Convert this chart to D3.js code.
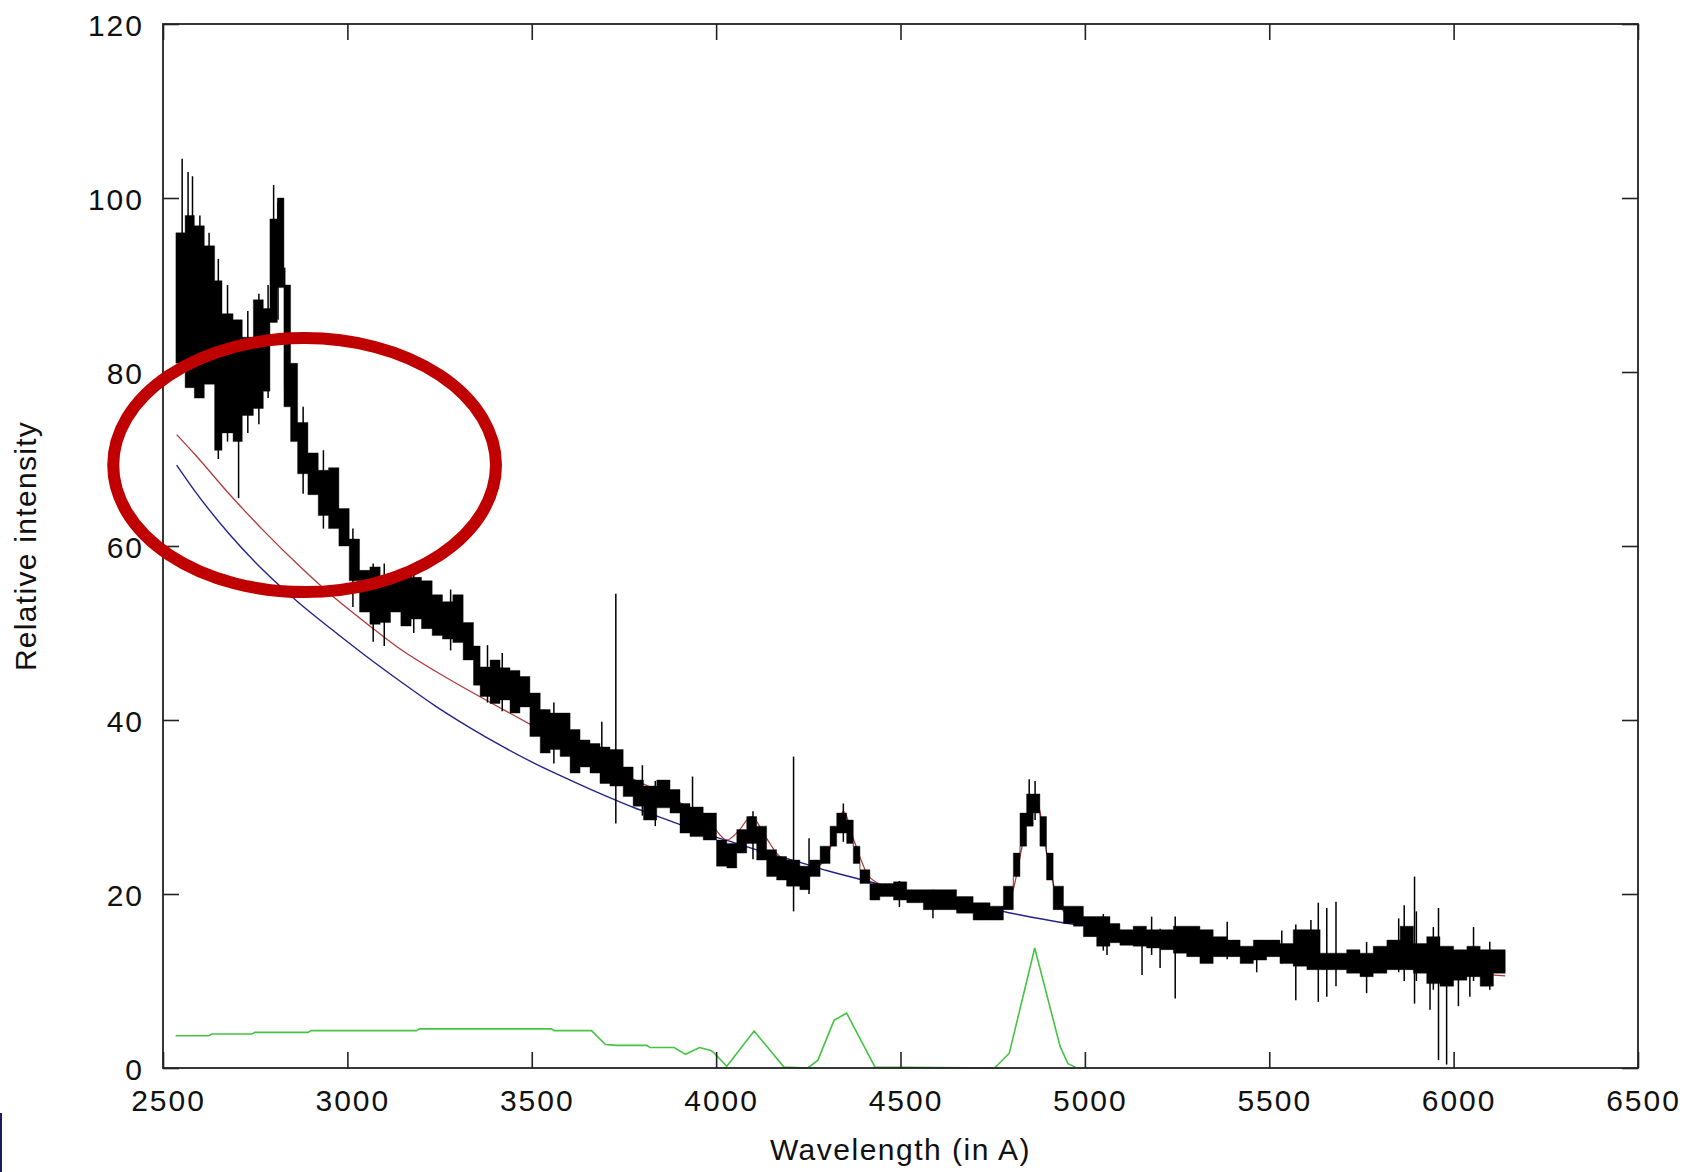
<!DOCTYPE html>
<html>
<head>
<meta charset="utf-8">
<script src="https://cdn.jsdelivr.net/npm/d3@7"></script>
<style>
  html, body { margin: 0; padding: 0; background: #fff; }
  svg { display: block; }
  text { font-family: "Liberation Sans", Arial, Helvetica, sans-serif; fill: #111; }
</style>
</head>
<body>
<script>
// axis ticks
var xTicks = [2500, 3000, 3500, 4000, 4500, 5000, 5500, 6000, 6500]
var yTicks = [0, 20, 40, 60, 80, 100, 120]

// observed spectrum, read as noise envelope per bin (bin start, upper, lower)
var specW = [2535, 2560, 2585, 2612, 2640, 2660, 2690, 2715, 2745, 2772, 2790, 2810, 2828, 2846, 2865, 2893, 2921, 2949, 2977, 3005,
  3033, 3061, 3089, 3117, 3145, 3173, 3201, 3230, 3258, 3286, 3314, 3342, 3360, 3387, 3414, 3441, 3468, 3495, 3523, 3550,
  3577, 3604, 3631, 3658, 3685, 3712, 3748, 3775, 3803, 3839, 3875, 3902, 3929, 3965, 4001, 4029, 4056, 4083, 4110, 4137,
  4164, 4191, 4227, 4254, 4282, 4309, 4327, 4354, 4372, 4390, 4417, 4444, 4481, 4517, 4562, 4607, 4652, 4697, 4743, 4779,
  4806, 4824, 4842, 4860, 4878, 4896, 4914, 4942, 4969, 4996, 5032, 5068, 5095, 5131, 5167, 5204, 5240, 5276, 5312, 5348,
  5385, 5421, 5457, 5493, 5529, 5565, 5602, 5638, 5674, 5710, 5746, 5782, 5819, 5855, 5891, 5927, 5963, 6000, 6036, 6072,
  6108, 6140]
var specHi = [96, 98, 96.8, 94.5, 90.5, 86.7, 86, 84, 88.3, 87.3, 97.6, 100, 90, 81, 74.2, 70.7, 68.7, 69, 64.3, 60.8,
  57.2, 57.6, 56, 56.4, 56.8, 56.4, 56, 54.4, 53.6, 54.4, 51.2, 48.5, 46.1, 46.9, 46, 45.7, 45, 43.1, 41.2, 40.8,
  40.8, 38.9, 37.7, 37.3, 36.9, 36.6, 34.6, 33.1, 32.4, 33.1, 32, 30.4, 30, 29.3, 26.2, 25.8, 27.4, 28.9, 27.8, 25.1,
  24.3, 23.9, 23.2, 23.9, 25.5, 27.8, 29.3, 28.5, 25.5, 22.8, 21.2, 21.2, 21.4, 20.5, 20.5, 20.5, 19.7, 19, 18.6, 20.9,
  24.7, 29.3, 31.5, 31.5, 28.9, 24.7, 20.9, 18.6, 18.6, 17.4, 17.4, 16.6, 15.9, 16.3, 15.9, 15.9, 16.3, 16.3, 15.9, 15.1,
  14.7, 14, 14.7, 14.7, 14.3, 15.9, 15.9, 13.2, 13.2, 13.6, 13.2, 14, 14.7, 16.3, 14.3, 15.1, 14, 13.6, 14, 13.6,
  13.6, 13.6]
var specLo = [81, 78.2, 77, 78.6, 71, 73, 72, 75, 75.8, 77.8, 85.7, 89.7, 76, 72, 68.3, 65.9, 63.5, 62, 60, 56,
  52.4, 51, 51.2, 52.4, 50.8, 51.6, 50.5, 49.7, 49.3, 48.9, 46.9, 44, 42.7, 41.9, 42.3, 40.8, 41.5, 38.1, 36.2, 36.6,
  35.8, 33.9, 34.6, 33.9, 32.7, 32.4, 31.2, 30.1, 28.5, 29.9, 29.3, 27, 26.6, 26.2, 23.2, 23, 24.7, 25.8, 23.9, 22,
  21.6, 20.9, 20.5, 22, 23.5, 25.5, 27, 25.8, 23.5, 21.2, 19.3, 19.7, 19.3, 19, 18.2, 18.2, 17.8, 17, 17, 18.2,
  22, 25.5, 27.8, 29.3, 25.5, 21.6, 18.2, 16.6, 16.3, 15.1, 14, 14.4, 14.1, 14, 13.8, 13.6, 13.2, 12.8, 12, 12.8,
  12.8, 12, 12.4, 12.8, 12, 11.7, 11.3, 11.3, 11.3, 10.9, 10.5, 10.9, 11.3, 11.3, 10.9, 9.7, 9.4, 10.1, 10.5, 9.4,
  10.9, 10.9]

// single-pixel spikes sticking out of the noise (wavelength, top, bottom)
var spikeW = [2552, 2568, 2580, 2600, 2625, 2650, 2675, 2705, 2730, 2760, 2785, 2800, 2812, 2830, 2880, 2935, 3015, 3070, 3100, 3180,
  3280, 3380, 3420, 3560, 3690, 3728, 3800, 3835, 3936, 4100, 4210, 4252, 4345, 4497, 4588, 4849, 4865, 5050, 5060, 5155,
  5181, 5204, 5245, 5386, 5466, 5534, 5572, 5613, 5633, 5656, 5681, 5764, 5851, 5866, 5894, 5899, 5936, 5945, 5959, 5981,
  6013, 6044, 6054, 6098]
var spikeTop = [104.5, 103, 102.5, 98, 96, 93, 90, 84, 87, 89, 90, 101.5, 99.5, 92, 76, 71, 62, 58, 58, 57,
  55, 48.6, 47.7, 42, 39.8, 54.5, 34.8, 33, 33.5, 29.5, 35.8, 26.4, 30.4, 21.5, 20.5, 33.2, 33, 17.7, 16.5, 16,
  17.4, 16, 17.4, 16.8, 14, 15.8, 16.5, 17, 19, 18.4, 19.1, 14.5, 17.2, 18.7, 22, 18, 15, 16.2, 18.4, 13,
  13, 13, 16.2, 14.5]
var spikeBot = [88, 85, 80, 77, 80, 70, 72, 65.5, 73, 74, 77, 90, 86, 78, 66, 62, 53, 49, 48.5, 50,
  48, 42, 41, 35, 33, 28.1, 29, 27.8, 27, 24, 18, 20, 26, 18.5, 17.2, 28, 28.5, 13.5, 13, 10.7,
  13, 11.5, 8, 12.5, 11, 12, 7.8, 12, 7.6, 8.2, 9.4, 8.6, 11, 10, 7.4, 10, 6.7, 9, 0.9, 0.4,
  7.1, 8.2, 10, 9]

// fitted model (red), power-law continuum (blue), iron/balmer template (green)
var modelW = [2537, 2585, 2679, 2772, 2865, 2958, 3052, 3145, 3239, 3333, 3423, 3513, 3604, 3694, 3785, 3875, 3940, 3992, 4029, 4060,
  4096, 4135, 4173, 4255, 4290, 4320, 4345, 4375, 4410, 4450, 4500, 4600, 4700, 4760, 4800, 4830, 4855, 4870, 4895, 4925,
  4960, 5000, 5200, 5400, 5600, 5800, 6000, 6140]
var modelV = [72.8, 70.6, 66.0, 61.8, 57.9, 54.3, 51.1, 48.1, 45.6, 43.3, 41.2, 39.1, 37.0, 35.0, 33.0, 31.2, 29.4, 27.7, 26.2, 27.2,
  28.9, 26.5, 24.3, 23, 23.6, 26.5, 29.5, 26, 22.3, 21, 20.4, 19.4, 18.6, 18.2, 19.8, 25.5, 30.5, 30.5, 25, 19.5,
  17.3, 16.6, 15.3, 13.9, 12.6, 11.7, 11, 10.6]

var contW = [2537, 2585, 2679, 2772, 2865, 2958, 3052, 3145, 3239, 3333, 3423, 3513, 3604, 3694, 3785, 3875, 3965, 4056, 4146, 4230,
  4300, 4408, 4500, 4600, 4700, 4788, 4860, 4941, 4990]
var contV = [69.3, 66.4, 61.4, 57.2, 53.6, 50.4, 47.3, 44.4, 41.6, 39.1, 36.9, 34.9, 33.1, 31.4, 29.8, 28.4, 27.0, 25.8, 24.6, 23.6,
  22.7, 21.5, 20.5, 19.5, 18.6, 17.9, 17.3, 16.7, 16.4]

var feW = [2534, 2624, 2632, 2741, 2749, 2893, 2901, 3187, 3196, 3553, 3562, 3662, 3700, 3729, 3812, 3821, 3886, 3917, 3955, 3986,
  3994, 4029, 4103, 4184, 4249, 4276, 4320, 4354, 4431, 4755, 4795, 4864, 4933, 4954, 4974]
var feV = [3.7, 3.7, 3.9, 3.9, 4.1, 4.1, 4.3, 4.3, 4.5, 4.5, 4.3, 4.3, 2.7, 2.6, 2.6, 2.35, 2.35, 1.57, 2.35, 2.0,
  1.75, 0.2, 4.25, 0.1, 0, 0.9, 5.5, 6.3, 0.1, 0, 1.7, 13.8, 2.45, 0.5, 0.1]

// red ring drawn over the plot (centre and radii in data units)
var ringCentre = [2884, 69.3]
var ringRadius = [519, 14.6]

var width = 1688
var height = 1172

var x = d3.scaleLinear().domain([2500, 6500]).range([163, 1638])
var y = d3.scaleLinear().domain([0, 120]).range([1068, 24])

var svg = d3.select("body").append("svg")
  .attr("width", width)
  .attr("height", height)

svg.append("rect").attr("width", width).attr("height", height).attr("fill", "#fff")

// green template
var feLine = d3.line().x(function (d) { return x(d[0]) }).y(function (d) { return y(d[1]) })
svg.append("path")
  .datum(d3.zip(feW, feV))
  .attr("fill", "none")
  .attr("stroke", "#44c444")
  .attr("stroke-width", 1.6)
  .attr("d", feLine)

// continuum and model
var smooth = d3.line().curve(d3.curveMonotoneX)
  .x(function (d) { return x(d[0]) }).y(function (d) { return y(d[1]) })

svg.append("path")
  .datum(d3.zip(contW, contV))
  .attr("fill", "none")
  .attr("stroke", "#23238a")
  .attr("stroke-width", 1.4)
  .attr("d", smooth)

svg.append("path")
  .datum(d3.zip(modelW, modelV))
  .attr("fill", "none")
  .attr("stroke", "#b03a3a")
  .attr("stroke-width", 1.3)
  .attr("d", smooth)

// spectrum noise band, stepped like the binned data
var bins = specW.map(function (w, i) { return { w: w, hi: specHi[i], lo: specLo[i] } })
var band = d3.area().curve(d3.curveStepAfter)
  .x(function (d) { return x(d.w) })
  .y0(function (d) { return y(d.lo) })
  .y1(function (d) { return y(d.hi) })

svg.append("path")
  .datum(bins)
  .attr("fill", "#000")
  .attr("stroke", "#000")
  .attr("stroke-width", 0.4)
  .attr("d", band)

svg.append("g").selectAll("line").data(spikeW).enter()
  .append("line")
  .attr("x1", function (d) { return x(d) })
  .attr("x2", function (d) { return x(d) })
  .attr("y1", function (d, i) { return y(spikeTop[i]) })
  .attr("y2", function (d, i) { return y(spikeBot[i]) })
  .attr("stroke", "#000")
  .attr("stroke-width", 1.5)

// frame with inward ticks on all four sides
var frame = svg.append("g").attr("class", "frame")

var bottom = frame.append("g").attr("transform", "translate(0," + y(0) + ")")
  .call(d3.axisBottom(x).tickValues(xTicks).tickSize(-16).tickPadding(22).tickFormat(d3.format("d")))
var left = frame.append("g").attr("transform", "translate(" + x(2500) + ",0)")
  .call(d3.axisLeft(y).tickValues(yTicks).tickSize(-16).tickPadding(19).tickFormat(d3.format("d")))
frame.append("g").attr("transform", "translate(0," + y(120) + ")")
  .call(d3.axisTop(x).tickValues(xTicks).tickSize(-16).tickFormat(""))
frame.append("g").attr("transform", "translate(" + x(6500) + ",0)")
  .call(d3.axisRight(y).tickValues(yTicks).tickSize(-16).tickFormat(""))

frame.selectAll(".domain").remove()
frame.selectAll(".tick line").attr("stroke", "#222").attr("stroke-width", 1.6)
frame.selectAll(".tick text").attr("font-size", 30).attr("fill", "#111")
  .attr("letter-spacing", 2)
  .attr("font-family", "\"Liberation Sans\", Arial, sans-serif")
bottom.selectAll(".tick text").attr("dx", 5)
left.selectAll(".tick text").attr("dy", "0.38em")

frame.append("rect")
  .attr("x", x(2500)).attr("y", y(120))
  .attr("width", x(6500) - x(2500)).attr("height", y(0) - y(120))
  .attr("fill", "none").attr("stroke", "#222").attr("stroke-width", 1.8)

// axis titles
svg.append("text")
  .attr("x", (x(2500) + x(6500)) / 2)
  .attr("y", 1160)
  .attr("text-anchor", "middle")
  .attr("font-size", 30)
  .attr("letter-spacing", 1.5)
  .text("Wavelength (in A)")

svg.append("text")
  .attr("transform", "translate(36,546) rotate(-90)")
  .attr("text-anchor", "middle")
  .attr("font-size", 30)
  .attr("letter-spacing", 1.3)
  .text("Relative intensity")

// red highlight ring
svg.append("ellipse")
  .attr("cx", x(ringCentre[0]))
  .attr("cy", y(ringCentre[1]))
  .attr("rx", x(ringCentre[0] + ringRadius[0]) - x(ringCentre[0]))
  .attr("ry", y(ringCentre[1]) - y(ringCentre[1] + ringRadius[1]))
  .attr("fill", "none")
  .attr("stroke", "#c00000")
  .attr("stroke-width", 12)

// slice of a neighbouring slide at the lower left edge
svg.append("rect").attr("x", 0).attr("y", 1113).attr("width", 2).attr("height", 59).attr("fill", "#1c1c5a")
</script>
</body>
</html>
